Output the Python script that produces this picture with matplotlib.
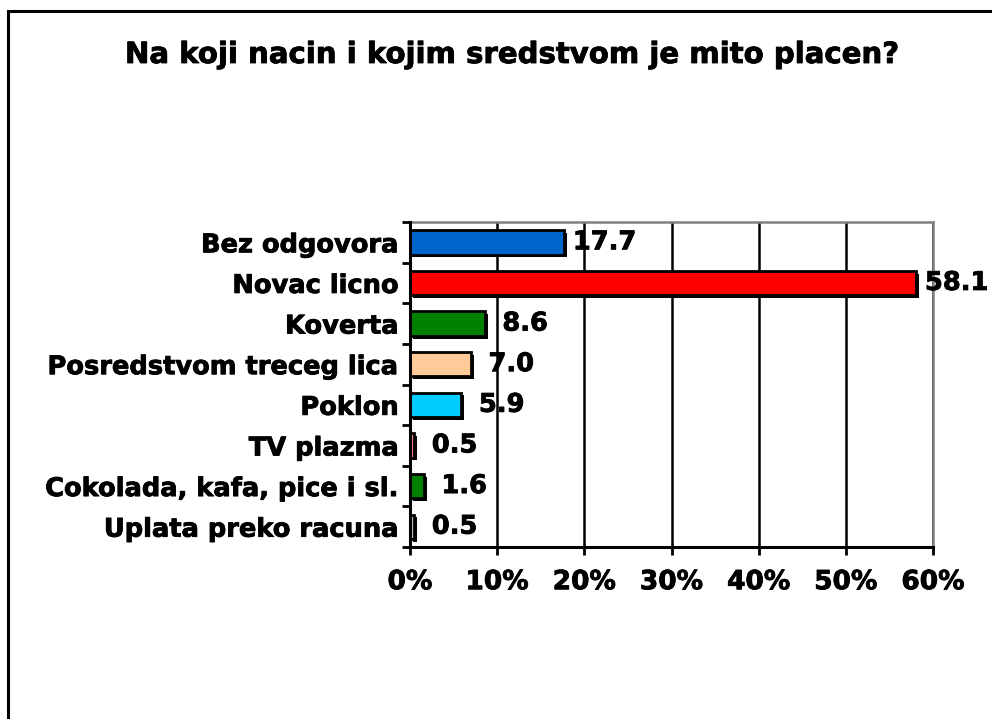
import matplotlib
matplotlib.use("Agg")
import matplotlib.pyplot as plt
import matplotlib.patheffects as pe
from matplotlib.patches import Rectangle

categories = ["Bez odgovora", "Novac licno", "Koverta", "Posredstvom treceg lica",
              "Poklon", "TV plazma", "Cokolada, kafa, pice i sl.", "Uplata preko racuna"]
values = [17.7, 58.1, 8.6, 7.0, 5.9, 0.5, 1.6, 0.5]
colors = ["#0066CC", "#FF0000", "#008000", "#FFCC99", "#00CCFF", "#FF8080", "#008000", "#C0C0C0"]
xticks = [0, 10, 20, 30, 40, 50, 60]
xticklabels = ["0%", "10%", "20%", "30%", "40%", "50%", "60%"]
title = "Na koji nacin i kojim sredstvom je mito placen?"

plt.rcParams['font.family'] = ['DejaVu Sans']
plt.rcParams['font.weight'] = 'bold'

heavy = [pe.withStroke(linewidth=0.6, foreground='black')]

W, H = 992, 719
fig = plt.figure(figsize=(W / 100, H / 100), dpi=100)

# outer chart border
fig.patches.append(Rectangle((8 / W, -0.05), 1.2, (H - 11) / H + 0.05, transform=fig.transFigure,
                             fill=False, edgecolor='black', linewidth=2.2, zorder=0))

ax = fig.add_axes([410 / W, (H - 547) / H, (933 - 410) / W, (547 - 222) / H])

n = len(categories)
ypos = list(range(n))
bars = ax.barh(ypos, values, height=0.6, color=colors, edgecolor='black', linewidth=2, zorder=3)
for b in bars:
    b.set_path_effects([pe.SimplePatchShadow(offset=(2, -2), shadow_rgbFace='black', alpha=1.0),
                        pe.Normal()])

for y, v in zip(ypos, values):
    ax.annotate(f"{v:.1f}", xy=(v, y), xytext=(29, 0), textcoords='offset points',
                ha='center', va='center', fontsize=18.5, fontweight='bold', zorder=5,
                path_effects=heavy)

ax.set_xlim(0, 60)
ax.set_ylim(n - 0.5, -0.5)
ax.set_xticks(xticks)
ax.set_xticklabels(xticklabels, fontsize=19, fontweight='bold')
ax.set_yticks(ypos)
ax.set_yticklabels(categories, fontsize=18.5, fontweight='bold')
ax.tick_params(axis='y', length=0, pad=8)
ax.set_yticks([i - 0.5 for i in range(n + 1)], minor=True)
ax.tick_params(axis='y', which='minor', length=6, width=2, direction='out')
ax.tick_params(axis='x', length=6, width=2, direction='out', pad=10)
for lbl in ax.get_xticklabels() + ax.get_yticklabels():
    lbl.set_path_effects(heavy)

ax.xaxis.grid(True, color='black', linewidth=1.8, zorder=1)
ax.set_axisbelow(True)
for s in ['left', 'bottom']:
    ax.spines[s].set_color('black')
    ax.spines[s].set_linewidth(2.2)
    ax.spines[s].set_zorder(4)
for s in ['top', 'right']:
    ax.spines[s].set_color('#808080')
    ax.spines[s].set_linewidth(1.8)

fig.text(512 / W, 1 - 55 / H, title, ha='center', va='center', fontsize=21, fontweight='bold',
         path_effects=heavy)

fig.savefig("out.png", dpi=100)
